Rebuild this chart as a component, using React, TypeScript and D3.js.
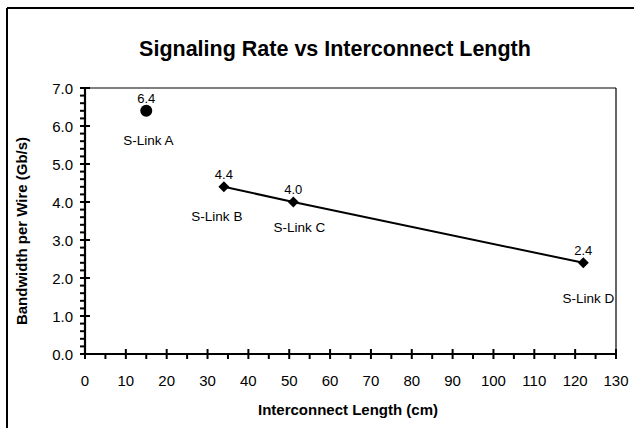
import React from "react";
import * as d3 from "d3";

const linkNames = ["S-Link A", "S-Link B", "S-Link C", "S-Link D"];
const lengthsCm = [15, 34, 51, 122];
const bandwidths = [6.4, 4.4, 4.0, 2.4];
const xTicks = [0, 10, 20, 30, 40, 50, 60, 70, 80, 90, 100, 110, 120, 130];
const yTicks = [0, 1, 2, 3, 4, 5, 6, 7];
// label offsets (dx, dy) for names relative to each point
const nameOffsets = [[2, 34], [-7, 34], [6, 30], [5, 40]];

const W = 634, H = 428;
const FONT = "Liberation Sans, Arial, Helvetica, sans-serif";

export default function App() {
  const x = d3.scaleLinear().domain([0, 130]).range([85, 616]);
  const y = d3.scaleLinear().domain([0, 7]).range([354, 88]);
  const minorX = d3.range(5, 130, 10);
  const minorY = d3.range(0, 7.001, 0.2).filter(v => Math.abs(v - Math.round(v)) > 0.01);
  const pts = lengthsCm.map((l, i) => ({ l, b: bandwidths[i], name: linkNames[i], i }));
  const linePts = pts.slice(1);
  const line = d3.line<any>().x(d => x(d.l)).y(d => y(d.b));
  const diamond = d3.symbol().type(d3.symbolSquare).size(60)();
  const [x0, x1] = x.range();
  const [y0, y1] = y.range();
  return (
    <svg width={W} height={H} style={{ position: "absolute", left: 0, top: 0, background: "#fff" }} fontFamily={FONT}>
      <rect x={0} y={0} width={W} height={H} fill="#fff" />
      {/* outer border */}
      <line x1={7} y1={8} x2={W} y2={8} stroke="#000" strokeWidth={2} />
      <line x1={7} y1={8} x2={7} y2={H} stroke="#000" strokeWidth={2} />
      <text x={335} y={56} textAnchor="middle" fontSize={21.5} fontWeight="bold">Signaling Rate vs Interconnect Length</text>
      {/* plot frame top/right */}
      <line x1={x0} y1={y1} x2={x1} y2={y1} stroke="#000" strokeWidth={1.2} />
      <line x1={x1} y1={y1} x2={x1} y2={y0} stroke="#000" strokeWidth={1.2} />
      {/* axes */}
      <line x1={x0} y1={y0} x2={x1} y2={y0} stroke="#000" strokeWidth={2.2} />
      <line x1={x0} y1={y0} x2={x0} y2={y1} stroke="#000" strokeWidth={2.2} />
      {xTicks.map(t => (
        <g key={"xt" + t}>
          <line x1={x(t)} x2={x(t)} y1={y0 - 5} y2={y0 + 5} stroke="#000" strokeWidth={2} />
          <text x={x(t)} y={y0 + 32} textAnchor="middle" fontSize={15}>{t}</text>
        </g>
      ))}
      {minorX.map(t => (
        <line key={"mx" + t} x1={x(t)} x2={x(t)} y1={y0} y2={y0 + 5} stroke="#000" strokeWidth={2} />
      ))}
      {yTicks.map(t => (
        <g key={"yt" + t}>
          <line x1={x0 - 5} x2={x0 + 5} y1={y(t)} y2={y(t)} stroke="#000" strokeWidth={2} />
          <text x={x0 - 12} y={y(t) + 5.5} textAnchor="end" fontSize={15}>{t.toFixed(1)}</text>
        </g>
      ))}
      {minorY.map(t => (
        <line key={"my" + t.toFixed(1)} x1={x0 - 5} x2={x0} y1={y(t)} y2={y(t)} stroke="#000" strokeWidth={2} />
      ))}
      <text transform={`translate(27,${231}) rotate(-90)`} textAnchor="middle" fontSize={15} fontWeight="bold">Bandwidth per Wire (Gb/s)</text>
      <text x={348} y={415} textAnchor="middle" fontSize={15} fontWeight="bold">Interconnect Length (cm)</text>
      {/* series */}
      <path d={line(linePts) || ""} fill="none" stroke="#000" strokeWidth={2} />
      <circle cx={x(pts[0].l)} cy={y(pts[0].b)} r={6} fill="#000" />
      {linePts.map(p => (
        <path key={p.name} d={diamond || ""} transform={`translate(${x(p.l)},${y(p.b)}) rotate(45)`} fill="#000" />
      ))}
      {pts.map(p => (
        <g key={"lbl" + p.name}>
          <text x={x(p.l)} y={y(p.b) - 8} textAnchor="middle" fontSize={13}>{p.b.toFixed(1)}</text>
          <text x={x(p.l) + nameOffsets[p.i][0]} y={y(p.b) + nameOffsets[p.i][1]} textAnchor="middle" fontSize={13.5}>{p.name}</text>
        </g>
      ))}
    </svg>
  );
}
